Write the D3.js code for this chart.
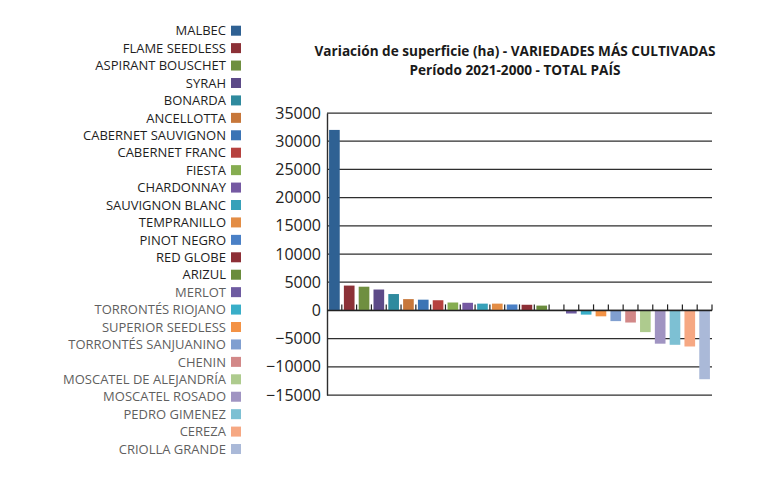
<!DOCTYPE html>
<html>
<head>
<meta charset="utf-8">
<script src="https://cdn.jsdelivr.net/npm/d3@7"></script>
<style>
  html, body { margin: 0; padding: 0; background: #fff; }
  svg { display: block; font-family: "Open Sans", "Noto Sans", sans-serif; }
</style>
</head>
<body>
<svg id="chart" width="770" height="478"></svg>
<script>
// ---- data ----
const categories = [
  "MALBEC", "FLAME SEEDLESS", "ASPIRANT BOUSCHET", "SYRAH", "BONARDA",
  "ANCELLOTTA", "CABERNET SAUVIGNON", "CABERNET FRANC", "FIESTA", "CHARDONNAY",
  "SAUVIGNON BLANC", "TEMPRANILLO", "PINOT NEGRO", "RED GLOBE", "ARIZUL",
  "MERLOT", "TORRONTÉS RIOJANO", "SUPERIOR SEEDLESS", "TORRONTÉS SANJUANINO", "CHENIN",
  "MOSCATEL DE ALEJANDRÍA", "MOSCATEL ROSADO", "PEDRO GIMENEZ", "CEREZA", "CRIOLLA GRANDE"
];
const values = [
  32000, 4400, 4200, 3700, 2900,
  2000, 1900, 1800, 1400, 1350,
  1200, 1200, 1050, 1000, 850,
  -550, -750, -1050, -1900, -2150,
  -3850, -5900, -6100, -6400, -12200
];
const colors = [
  "#2f6193", "#8c3137", "#6f8f40", "#5c4a88", "#2f8a9e",
  "#c7773a", "#3b74b5", "#b6423f", "#86ad51", "#7559a2",
  "#37a1b9", "#e38d45", "#4a80c6", "#8d2f36", "#6a8c3c",
  "#6e5ba1", "#39aec8", "#f39245", "#809fd0", "#d28888",
  "#aecb8e", "#a094c2", "#7dc0d3", "#f6a883", "#aab9d8"
];
const yTicks = [-15000, -10000, -5000, 0, 5000, 10000, 15000, 20000, 25000, 30000, 35000];
const titleLines = [
  "Variación de superficie (ha) - VARIEDADES MÁS CULTIVADAS",
  "Período 2021-2000 - TOTAL PAÍS"
];
const gapAfter = 15; // an empty category slot between positive and negative bars

// ---- layout ----
const svg = d3.select("#chart");
const plot = { left: 327, right: 712, top: 113, bottom: 395 };

const slots = categories.slice(0, gapAfter).concat(["__gap__"], categories.slice(gapAfter));
const x = d3.scaleBand().domain(slots).range([plot.left, plot.right]).paddingInner(0.28).paddingOuter(0.14);
const y = d3.scaleLinear().domain([-15000, 35000]).range([plot.bottom, plot.top]);

// gridlines
svg.append("g").selectAll("line").data(yTicks).join("line")
  .attr("x1", plot.left).attr("x2", plot.right)
  .attr("y1", d => y(d)).attr("y2", d => y(d))
  .attr("stroke", "#2e2e2e").attr("stroke-width", 1.25);

// y axis labels
const yAxis = d3.axisLeft(y).tickValues(yTicks).tickSize(0).tickPadding(6).tickFormat(d3.format("d"));
const yg = svg.append("g").attr("transform", `translate(${plot.left},0)`).call(yAxis);
yg.select(".domain").attr("stroke", "#2e2e2e").attr("stroke-width", 1.4);
yg.selectAll("text").attr("font-size", 16).attr("fill", "#222")
  .attr("font-family", "'Open Sans', 'Noto Sans', sans-serif");

// bars
const data = categories.map((c, i) => ({ c, v: values[i], col: colors[i] }));
svg.append("g").selectAll("rect").data(data).join("rect")
  .attr("x", d => x(d.c))
  .attr("width", x.bandwidth())
  .attr("y", d => y(Math.max(0, d.v)))
  .attr("height", d => Math.abs(y(d.v) - y(0)))
  .attr("fill", d => d.col);

// zero axis with category ticks pointing up
const tickXs = d3.range(1, slots.length + 1).map(i => plot.left + i * (plot.right - plot.left) / slots.length);
svg.append("line")
  .attr("x1", plot.left).attr("x2", plot.right)
  .attr("y1", y(0)).attr("y2", y(0))
  .attr("stroke", "#222").attr("stroke-width", 1.5);
svg.append("g").selectAll("line").data(tickXs).join("line")
  .attr("x1", d => d).attr("x2", d => d)
  .attr("y1", y(0)).attr("y2", y(0) - 6)
  .attr("stroke", "#222").attr("stroke-width", 1.2);

// title
svg.append("g").selectAll("text").data(titleLines).join("text")
  .attr("x", 515).attr("y", (d, i) => 56 + i * 19)
  .attr("text-anchor", "middle")
  .attr("font-size", 13.6).attr("font-weight", 700).attr("fill", "#1a1a1a")
  .text(d => d);

// legend
const leg = svg.append("g");
const rowH = 17.43, legTop = 30.7;
const items = leg.selectAll("g").data(data).join("g")
  .attr("transform", (d, i) => `translate(0,${legTop + i * rowH})`);
items.append("rect").attr("x", 231).attr("y", -5).attr("width", 10).attr("height", 10)
  .attr("fill", d => d.col);
items.append("text").attr("x", 226).attr("y", 0).attr("dy", "0.36em")
  .attr("text-anchor", "end").attr("font-size", 13)
  .attr("fill", (d, i) => i < gapAfter ? "#1e1e1e" : "#5f5f5f")
  .text(d => d.c);
</script>
</body>
</html>
